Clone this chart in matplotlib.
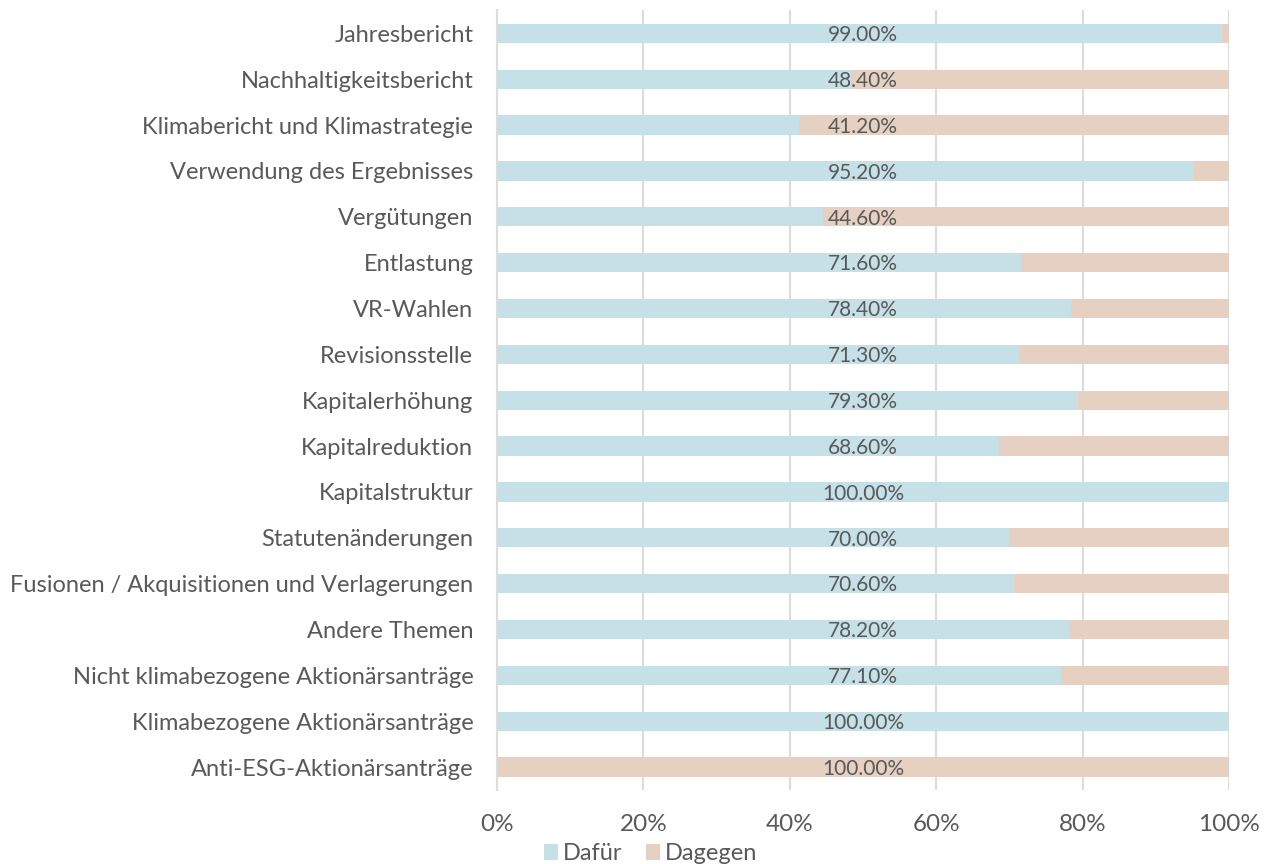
import matplotlib
matplotlib.use('Agg')
import matplotlib.pyplot as plt
import numpy as np

categories = ['Jahresbericht', 'Nachhaltigkeitsbericht', 'Klimabericht und Klimastrategie',
              'Verwendung des Ergebnisses', 'Vergütungen', 'Entlastung', 'VR-Wahlen',
              'Revisionsstelle', 'Kapitalerhöhung', 'Kapitalreduktion', 'Kapitalstruktur',
              'Statutenänderungen', 'Fusionen / Akquisitionen und Verlagerungen',
              'Andere Themen', 'Nicht klimabezogene Aktionärsanträge',
              'Klimabezogene Aktionärsanträge', 'Anti-ESG-Aktionärsanträge']
dafuer = [99.0, 48.4, 41.2, 95.2, 44.6, 71.6, 78.4, 71.3, 79.3, 68.6, 100.0,
          70.0, 70.6, 78.2, 77.1, 100.0, 0.0]
dagegen = [100 - v for v in dafuer]
labels = ['99.00%', '48.40%', '41.20%', '95.20%', '44.60%', '71.60%', '78.40%',
          '71.30%', '79.30%', '68.60%', '100.00%', '70.00%', '70.60%', '78.20%',
          '77.10%', '100.00%', '100.00%']

plt.rcParams['font.family'] = ['Lato', 'DejaVu Sans']
txt = '#595959'

fig = plt.figure(figsize=(12.71, 8.64), dpi=100)
ax = fig.add_axes([0.391, 0.0856, 0.576, 0.9024])

y = np.arange(len(categories))
ax.barh(y, dafuer, height=0.42, color='#C5E0E6', label='Dafür', zorder=2)
ax.barh(y, dagegen, left=dafuer, height=0.42, color='#E5D0C2', label='Dagegen', zorder=2)

for yi, lab in zip(y, labels):
    ax.text(50, yi + 0.04, lab, ha='center', va='center', fontsize=15, color=txt, zorder=3)

ax.set_xlim(0, 100)
ax.set_ylim(len(categories) - 0.5, -0.5)
ax.set_yticks(y)
ax.set_yticklabels(categories, fontsize=17, color=txt)
ax.set_xticks([0, 20, 40, 60, 80, 100])
ax.set_xticklabels(['0%', '20%', '40%', '60%', '80%', '100%'], fontsize=17.5, color=txt)
ax.tick_params(axis='both', length=0)
ax.tick_params(axis='y', pad=17)
ax.tick_params(axis='x', pad=17)
ax.grid(axis='x', color='#DCDCDC', linewidth=1.5, zorder=0)
for s in ['top', 'right', 'bottom']:
    ax.spines[s].set_visible(False)
ax.spines['left'].set_color('#DCDCDC')
ax.spines['left'].set_linewidth(1.5)

fig.legend(loc='lower center', bbox_to_anchor=(0.512, -0.025), ncol=2, frameon=False,
           fontsize=17, labelcolor=txt, handlelength=0.6, handleheight=0.7,
           handletextpad=0.2, columnspacing=1.0)

fig.savefig('out.png', dpi=100)
